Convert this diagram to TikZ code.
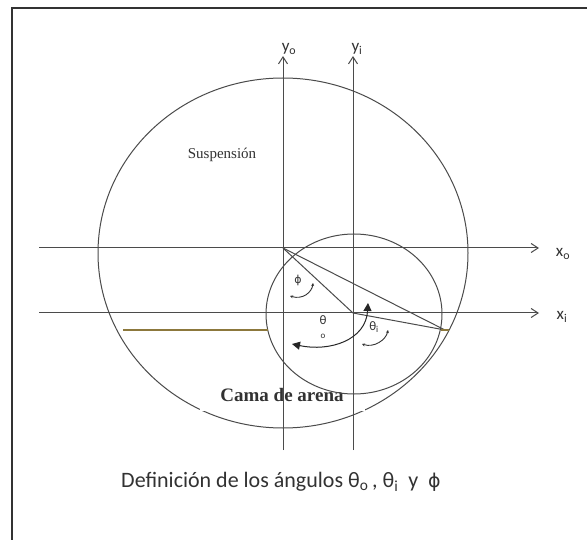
\documentclass[tikz,border=0pt]{standalone}
\usepackage{fontspec}
\setmainfont{Carlito}
\newfontfamily\bedfont{Liberation Serif}
\newfontfamily\phifont{DejaVu Sans}
\usetikzlibrary{arrows.meta}

\definecolor{linegray}{RGB}{75,75,75}
\definecolor{sandgold}{RGB}{140,120,60}
\definecolor{txtgray}{RGB}{50,50,50}

\begin{document}
\begin{tikzpicture}[
  x=1pt, y=-1pt,
  axis/.style={draw=linegray, line width=1pt,
    -{Straight Barb[length=7pt,width=9pt]}},
  ring/.style={draw=linegray, line width=1pt},
  seg/.style={draw=linegray, line width=1pt},
  angarr/.style={draw=black!80, line width=0.9pt,
    {Stealth[length=3pt,width=3pt]}-{Stealth[length=3pt,width=3pt]}},
  bigarr/.style={draw=black!85, line width=1pt,
    {Triangle[length=8pt,width=8pt]}-{Triangle[length=8pt,width=8pt]}},
  axlbl/.style={font=\fontsize{17}{17}\selectfont, text=txtgray, inner sep=0pt},
  anglbl/.style={font=\fontsize{13}{13}\selectfont, text=txtgray, inner sep=0pt},
  sand/.style={draw=sandgold, line width=2pt}
]
\fill[white] (0,0) rectangle (587,540);
\useasboundingbox (0,0) rectangle (587,540);
% frame
\draw[draw=black!80, line width=1.8pt] (12,540) -- (12,8) -- (587,8);

% origins and points
\coordinate (O)  at (283,248);
\coordinate (Oi) at (353,313);
\coordinate (P)  at (445,330);

% suspension and sand bed
\draw[ring] (283,253) ellipse [x radius=185, y radius=175];
\node[fill=white, minimum width=165pt, minimum height=32pt, inner sep=0pt,
  font=\bedfont\bfseries\fontsize{19}{19}\selectfont, text=txtgray] (cama) at (282,395) {Cama de arena};
\node[font=\bedfont\fontsize{15}{15}\selectfont, text=txtgray] (susp) at (222,155) {Suspensión};
\draw[ring] (354,314) ellipse [x radius=88, y radius=80];

% axes
\coordinate (xo-a) at (39,248);
\coordinate (xo-b) at (539,248);
\coordinate (xi-a) at (39,313);
\coordinate (xi-b) at (539,313);
\coordinate (yo-a) at (283,450);
\coordinate (yo-b) at (283,56);
\coordinate (yi-a) at (353,450);
\coordinate (yi-b) at (353,56);
\draw[axis] (xo-a) -- (xo-b);
\draw[axis] (xi-a) -- (xi-b);
\draw[axis] (yo-a) -- (yo-b);
\draw[axis] (yi-a) -- (yi-b);
\node[axlbl] (xo) at (563,254) {x\textsubscript{o}};
\node[axlbl] (xi) at (562,317) {x\textsubscript{i}};
\node[axlbl] (yo) at (289,49) {y\textsubscript{o}};
\node[axlbl] (yi) at (357,49) {y\textsubscript{i}};

% triangle O - Oi - P
\draw[seg] (O) -- (Oi);
\draw[seg] (Oi) -- (P);
\draw[seg] (O) -- (P);

% sand level
\coordinate (bed-l) at (123,330);
\coordinate (bed-r) at (268,330);
\draw[sand] (bed-l) -- (bed-r);
\draw[sand] ([xshift=-4pt]P) -- ([xshift=4pt]P);

% angles
\draw[angarr] (290,296) .. controls (303,300) and (312,292) .. (313,283);
\node[anglbl] (phi) at (298,280) {\phifont\fontsize{11}{11}\selectfont ϕ};
\draw[bigarr] (292,344) .. controls (330,352) and (366,340) .. (368,303);
\node[anglbl, align=center] (tho) at (323,327) {θ\\[1pt]{\fontsize{9}{9}\selectfont o}};
\draw[angarr] (362,344) .. controls (374,348) and (386,340) .. (388,330);
\node[anglbl] (thi) at (374,327) {θ\textsubscript{i}};

% caption
\node[font=\fontsize{22}{22}\selectfont, text=txtgray] (cap) at (281,482)
  {Definición de los ángulos θ\textsubscript{o}\,, θ\textsubscript{i}\ \ y\ \ {\phifont\fontsize{19}{19}\selectfont ϕ}};
\end{tikzpicture}
\end{document}
